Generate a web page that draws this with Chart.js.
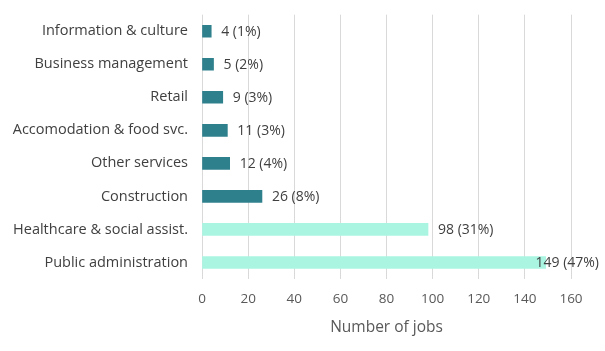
<!DOCTYPE html>
<html>
<head>
<meta charset="utf-8">
<script src="https://cdn.jsdelivr.net/npm/chart.js@4/dist/chart.umd.min.js"></script>
<style>
  html, body { margin: 0; padding: 0; background: #fff; }
  #wrap { width: 605px; height: 351px; }
</style>
</head>
<body>
<div id="wrap"><canvas id="jobs-chart"></canvas></div>
<script>
(function() {
    // jobs by sector, top to bottom
    const sectors = [
        'Information & culture',
        'Business management',
        'Retail',
        'Accomodation & food svc.',
        'Other services',
        'Construction',
        'Healthcare & social assist.',
        'Public administration'
    ];
    const jobs = [4, 5, 9, 11, 12, 26, 98, 149];
    const shares = [1, 2, 3, 3, 4, 8, 31, 47];
    const highlighted = [false, false, false, false, false, false, true, true];
    const xTicks = [0, 20, 40, 60, 80, 100, 120, 140, 160];

    const fontFamily = '"Open Sans", "Noto Sans", sans-serif';

    // value labels to the right of each bar, kept inside the canvas
    const valueLabels = {
        id: 'valueLabels',
        afterDatasetsDraw(chart) {
            const ctx = chart.ctx;
            const meta = chart.getDatasetMeta(0);
            ctx.save();
            ctx.font = '14px ' + fontFamily;
            ctx.fillStyle = '#404040';
            ctx.textBaseline = 'middle';
            meta.data.forEach((bar, i) => {
                const text = jobs[i] + ' (' + shares[i] + '%)';
                const w = ctx.measureText(text).width;
                let x = bar.x + 10;
                if (x + w > chart.width - 6) x = chart.width - 6 - w;
                ctx.fillText(text, x, bar.y + 1);
            });
            ctx.restore();
        }
    };

    new Chart(document.getElementById('jobs-chart'), {
        type: 'bar',
        data: {
            labels: sectors,
            datasets: [{
                data: jobs,
                backgroundColor: highlighted.map(h => h ? '#aaf5e2' : '#2f808d'),
                barThickness: 12
            }]
        },
        options: {
            indexAxis: 'y',
            responsive: true,
            maintainAspectRatio: false,
            animation: false,
            layout: { padding: { top: 7, right: 34, left: 0, bottom: 14 } },
            plugins: {
                legend: { display: false },
                tooltip: { enabled: false }
            },
            scales: {
                x: {
                    min: 0,
                    max: 160,
                    afterBuildTicks(scale) {
                        scale.ticks = xTicks.map(v => ({ value: v }));
                    },
                    afterFit(scale) { scale.height = 58; },
                    grid: { color: '#d9d9d9', drawTicks: false },
                    border: { display: false },
                    ticks: {
                        color: '#595959',
                        padding: 12,
                        font: { family: fontFamily, size: 13.5 }
                    },
                    title: {
                        display: true,
                        text: 'Number of jobs',
                        color: '#595959',
                        padding: { top: 4, bottom: 0 },
                        font: { family: fontFamily, size: 15.5 }
                    }
                },
                y: {
                    afterFit(scale) { scale.width = 202; },
                    grid: { display: false },
                    border: { display: false },
                    ticks: {
                        color: '#404040',
                        padding: 6,
                        font: { family: fontFamily, size: 14.5 }
                    }
                }
            }
        },
        plugins: [valueLabels]
    });
})();
</script>
</body>
</html>
